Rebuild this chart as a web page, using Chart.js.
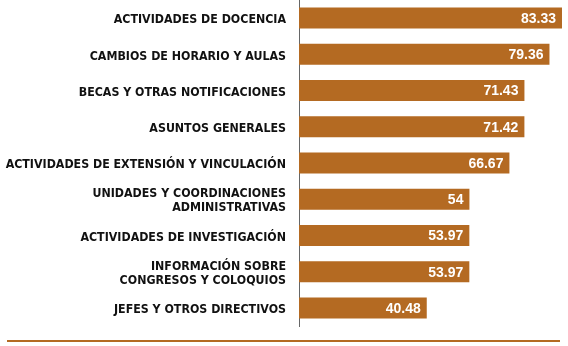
<!DOCTYPE html>
<html>
<head>
<meta charset="utf-8">
<script src="https://cdn.jsdelivr.net/npm/chart.js@4"></script>
<style>
  body { margin: 0; background: #fff; }
  #wrap { position: relative; width: 568px; height: 346px; }
  #rule { position: absolute; left: 7px; top: 340px; width: 553px; height: 2px; background: #b46a22; }
</style>
</head>
<body>
<div id="wrap">
  <canvas id="chart" width="568" height="346"></canvas>
  <div id="rule"></div>
</div>
<script>
const categories = [
    'ACTIVIDADES DE DOCENCIA',
    'CAMBIOS DE HORARIO Y AULAS',
    'BECAS Y OTRAS NOTIFICACIONES',
    'ASUNTOS GENERALES',
    'ACTIVIDADES DE EXTENSIÓN Y VINCULACIÓN',
    ['UNIDADES Y COORDINACIONES', 'ADMINISTRATIVAS'],
    'ACTIVIDADES DE INVESTIGACIÓN',
    ['INFORMACIÓN SOBRE', 'CONGRESOS Y COLOQUIOS'],
    'JEFES Y OTROS DIRECTIVOS'
];
const values = [83.33, 79.36, 71.43, 71.42, 66.67, 54, 53.97, 53.97, 40.48];

const BAR_COLOR = '#b46a22';

// white value at the end of every bar
const valueLabels = {
    id: 'valueLabels',
    afterDatasetsDraw(chart) {
        const ctx = chart.ctx;
        const meta = chart.getDatasetMeta(0);
        ctx.save();
        ctx.fillStyle = '#ffffff';
        ctx.font = 'bold 14px "Liberation Sans", Arial, sans-serif';
        ctx.textAlign = 'right';
        ctx.textBaseline = 'middle';
        meta.data.forEach((bar, i) => {
            ctx.fillText(String(values[i]), bar.x - 6, bar.y + 1);
        });
        ctx.restore();
    }
};

new Chart(document.getElementById('chart'), {
    type: 'bar',
    data: {
        labels: categories,
        datasets: [{
            data: values,
            backgroundColor: BAR_COLOR,
            borderWidth: 0,
            barPercentage: 0.58,
            categoryPercentage: 1
        }]
    },
    options: {
        indexAxis: 'y',
        responsive: false,
        animation: false,
        layout: { padding: { top: 0, right: 2, bottom: 20, left: 0 } },
        plugins: {
            legend: { display: false },
            tooltip: { enabled: false }
        },
        scales: {
            x: {
                display: false,
                min: 0,
                max: 84.6
            },
            y: {
                afterFit(scale) {
                    scale.width = 299;
                    scale.paddingTop = 0;
                    scale.paddingBottom = 0;
                },
                grid: { display: false, drawTicks: false },
                border: { display: true, color: '#666666', width: 1 },
                ticks: {
                    color: '#111111',
                    padding: 13,
                    labelOffset: 2,
                    font: { family: '"DejaVu Sans Condensed", "DejaVu Sans", sans-serif', weight: 'bold', size: 12.3, lineHeight: 1.15 }
                }
            }
        }
    },
    plugins: [valueLabels]
});
</script>
</body>
</html>
